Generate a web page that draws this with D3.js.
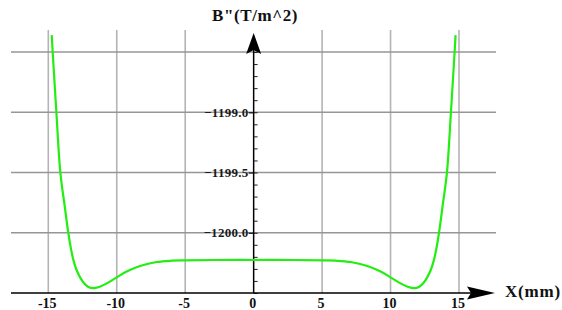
<!DOCTYPE html>
<html>
<head>
<meta charset="utf-8">
<script src="https://cdn.jsdelivr.net/npm/d3@7"></script>
<style>
  body { margin: 0; background: #fff; }
  svg { display: block; }
  text { font-family: "Liberation Serif", "DejaVu Serif", "Times New Roman", serif; font-weight: bold; }
</style>
</head>
<body>
<svg id="chart" width="562" height="310"></svg>
<script>
// field gradient along x
const xValues = [-14.75, -14.68, -14.41, -14.12, -13.8, -13.54, -13.35, -13.17, -12.95, -12.68, -12.4, -12.1, -11.71, -11.3, -10.73, -10, -9.2, -8.3, -7.08, -6, -5, -3, 0,
  3, 5, 6, 7.08, 8.3, 9.2, 10, 10.73, 11.3, 11.71, 12.1, 12.4, 12.68, 12.95, 13.17, 13.35, 13.54, 13.8, 14.12, 14.41, 14.68, 14.75];
const bValues = [-1198.36, -1198.5, -1199.0, -1199.5, -1199.78, -1200.0, -1200.13, -1200.225, -1200.305, -1200.37, -1200.417, -1200.448, -1200.46, -1200.45, -1200.42, -1200.37, -1200.318, -1200.276, -1200.243, -1200.232, -1200.229, -1200.226, -1200.226,
  -1200.226, -1200.229, -1200.232, -1200.243, -1200.276, -1200.318, -1200.37, -1200.42, -1200.45, -1200.46, -1200.448, -1200.417, -1200.37, -1200.305, -1200.225, -1200.13, -1200.0, -1199.78, -1199.5, -1199.0, -1198.5, -1198.36];
const xTicks = [-15, -10, -5, 0, 5, 10, 15];
const yTicks = [-1200.0, -1199.5, -1199.0];
const yGrid = [-1200.0, -1199.5, -1199.0, -1198.5];

const data = xValues.map((x, i) => ({ x: x, b: bValues[i] }));

const serif = '"Liberation Serif", "DejaVu Serif", "Times New Roman", serif';
const svg = d3.select('#chart');

const x = d3.scaleLinear().domain([-15, 15]).range([48.3, 459]);
const y = d3.scaleLinear().domain([-1200.5, -1198.5]).range([293, 52]);

const x0 = x(0);
const yBase = y(-1200.5);

// grid
svg.append('g')
  .selectAll('line')
  .data(xTicks.filter(d => d !== 0))
  .join('line')
  .attr('x1', d => x(d)).attr('x2', d => x(d))
  .attr('y1', 30).attr('y2', yBase)
  .attr('stroke', '#b4b4b4')
  .attr('stroke-width', 1.6);

svg.append('g')
  .selectAll('line')
  .data(yGrid)
  .join('line')
  .attr('x1', 11).attr('x2', 496)
  .attr('y1', d => y(d)).attr('y2', d => y(d))
  .attr('stroke', '#969696')
  .attr('stroke-width', 1.4);

// minor ticks on the y axis
svg.append('g')
  .attr('transform', `translate(${x0},0)`)
  .call(d3.axisRight(y).ticks(20).tickSize(4).tickFormat(''))
  .call(g => g.select('.domain').remove())
  .call(g => g.selectAll('line').attr('stroke', '#222').attr('stroke-width', 1));

// y labels
const yAxis = svg.append('g')
  .attr('transform', `translate(${x0},0)`)
  .call(d3.axisLeft(y).tickValues(yTicks).tickSize(5).tickPadding(0)
    .tickFormat(d => '\u2212' + d3.format('.1f')(-d)))
  .call(g => g.select('.domain').remove());
yAxis.selectAll('line').attr('stroke', '#222').attr('stroke-width', 1.4);
yAxis.selectAll('text')
  .attr('font-family', serif)
  .attr('font-weight', 'bold')
  .attr('font-size', 13)
  .attr('letter-spacing', 0.3)
  .attr('fill', '#1a1a1a');

// x labels
svg.append('g')
  .selectAll('text')
  .data(xTicks)
  .join('text')
  .attr('x', d => x(d) - 1)
  .attr('y', 308)
  .attr('text-anchor', 'middle')
  .attr('font-size', 14)
  .attr('fill', '#111')
  .text(d => d);

// axes lines
svg.append('line')
  .attr('x1', 11).attr('x2', 472)
  .attr('y1', yBase).attr('y2', yBase)
  .attr('stroke', '#000').attr('stroke-width', 1.5);
svg.append('line')
  .attr('x1', x0).attr('x2', x0)
  .attr('y1', yBase).attr('y2', 50)
  .attr('stroke', '#000').attr('stroke-width', 1.5);

// arrow heads
svg.append('path')
  .attr('d', `M${x0},33 L${x0 - 7.5},54 L${x0},50 L${x0 + 7.5},54 Z`)
  .attr('fill', '#000');
svg.append('path')
  .attr('d', `M495,${yBase} L467,${yBase - 6.5} L471,${yBase} L467,${yBase + 6.5} Z`)
  .attr('fill', '#000');

// axis titles
svg.append('text')
  .attr('x', 212).attr('y', 21)
  .attr('font-size', 17)
  .attr('letter-spacing', 0.6)
  .attr('fill', '#111')
  .text('B"(T/m^2)');
svg.append('text')
  .attr('x', 505).attr('y', 297)
  .attr('font-size', 17)
  .attr('letter-spacing', 0.8)
  .attr('fill', '#111')
  .text('X(mm)');

// curve
const line = d3.line()
  .x(d => x(d.x))
  .y(d => y(d.b))
  .curve(d3.curveCatmullRom.alpha(0.5));

svg.append('path')
  .datum(data)
  .attr('fill', 'none')
  .attr('stroke', '#22ee11')
  .attr('stroke-width', 2.2)
  .attr('d', line);
</script>
</body>
</html>
